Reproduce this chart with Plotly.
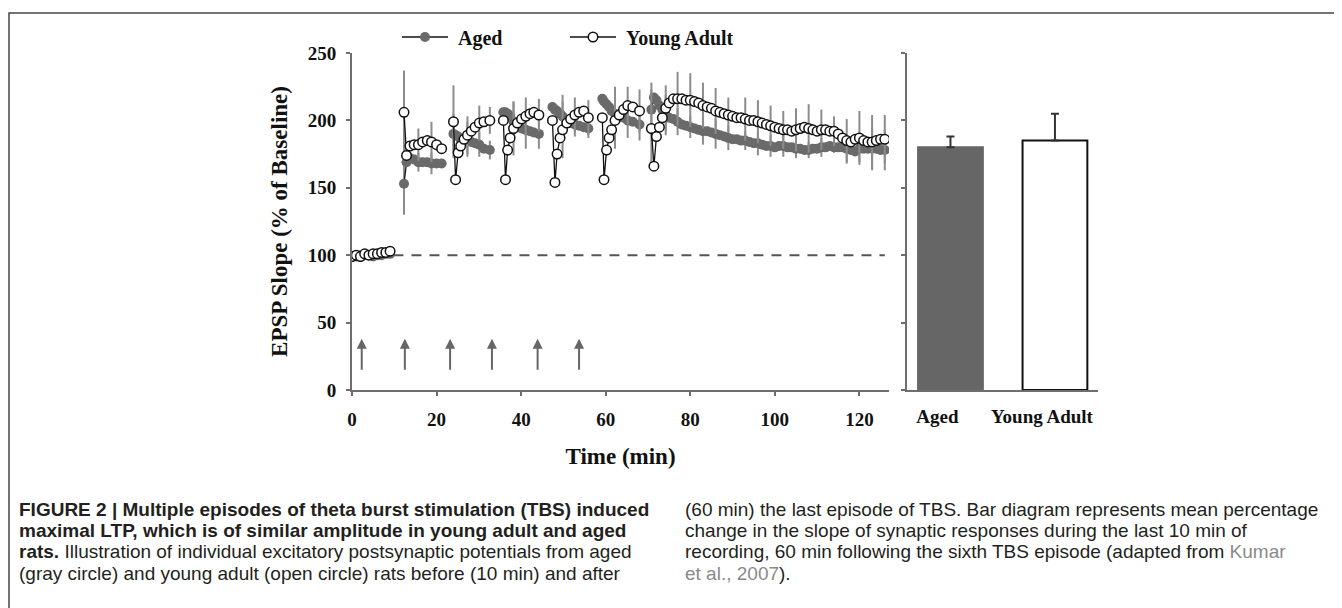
import plotly.graph_objects as go

# ---------------- data ----------------
# time (min); None separates recording segments between TBS episodes
TIME = [0, 1, 2, 3, 4, 5, 6, 7, 8, 9, None,
        12.3, 12.9, 13.7, 14.7, 15.7, 16.7, 17.8, 18.8, 20.0, 21.2, None,
        24.0, 24.5, 25.1, 25.7, 26.5, 27.3, 28.2, 29.1, 30.1, 31.2, 32.6, None,
        35.8, 36.3, 36.8, 37.4, 38.2, 39.1, 40.1, 41.1, 42.1, 43.0, 44.2, None,
        47.4, 48.0, 48.5, 49.2, 49.8, 50.8, 51.7, 52.7, 53.7, 54.8, 55.9, None,
        59.2, 59.6, 60.2, 60.8, 61.4, 62.2, 63.2, 64.2, 65.2, 66.4, 68.0, None,
        70.8, 71.4, 72.0, 72.7, 73.4, 74.2,
        75, 76, 77, 78, 79, 80, 81, 82, 83, 84, 85, 86, 87, 88, 89, 90, 91, 92, 93, 94,
        95, 96, 97, 98, 99, 100, 101, 102, 103, 104, 105, 106, 107, 108, 109, 110,
        111, 112, 113, 114, 115, 116, 117, 118, 119, 120, 121, 122, 123, 124, 125, 126]

YOUNG = [99, 100, 99, 101, 100, 101, 101, 102, 102, 103, None,
         206, 174, 181, 182, 182, 184, 185, 184, 182, 179, None,
         199, 156, 176, 181, 186, 189, 192, 195, 198, 199, 200, None,
         200, 156, 178, 187, 194, 198, 201, 203, 205, 206, 204, None,
         200, 154, 175, 187, 193, 198, 201, 204, 206, 207, 202, None,
         202, 156, 178, 187, 193, 200, 204, 208, 211, 210, 207, None,
         194, 166, 188, 195, 202, 209,
         213, 216, 216, 216, 215, 215, 214, 213, 211, 210, 209, 207, 206, 205, 204, 203, 202, 202, 201, 200,
         200, 199, 198, 197, 196, 195, 194, 193, 193, 192, 193, 194, 195, 194, 193, 192,
         193, 193, 192, 192, 190, 187, 185, 184, 186, 187, 185, 184, 184, 185, 186, 186]

AGED = [99, 99, 100, 100, 100, 99, 100, 100, 101, 101, None,
        153, 169, 172, 171, 169, 169, 169, 168, 168, 168, None,
        190, 189, 188, 186, 185, 186, 184, 183, 182, 179, 178, None,
        206, 206, 205, 203, 199, 196, 194, 193, 192, 191, 190, None,
        210, 208, 207, 205, 203, 200, 198, 197, 196, 195, 194, None,
        216, 214, 212, 210, 207, 205, 203, 202, 200, 199, 197, None,
        208, 217, 215, 211, 208, 204,
        202, 201, 199, 197, 196, 195, 194, 193, 192, 192, 191, 190, 189, 188, 187, 186, 186, 185, 185, 184,
        183, 183, 182, 181, 181, 180, 181, 181, 180, 180, 179, 179, 178, 178, 179, 179,
        180, 180, 181, 180, 180, 180, 179, 178, 177, 179, 179, 179, 179, 179, 178, 178]

# error bars (SEM) shown at these time points
SEM_TIMES = [12.3, 15.7, 18.8, 24.0, 27.3, 30.1, 32.6, 38.2, 41.1, 44.2, 49.8, 52.7, 55.9,
             62.2, 65.2, 68.0, 70.8, 74.2, 77, 80, 83, 86, 89, 93, 96, 99, 102, 105, 108,
             111, 114, 117, 120, 123, 126]
YOUNG_SEM = [31, 12, 15, 27, 14, 13, 10, 20, 14, 12, 21, 13, 13, 21, 14, 16, 29, 17,
             20, 20, 17, 17, 13, 16, 16, 15, 14, 16, 18, 15, 11, 16, 20, 20, 18]
AGED_SEM = [23, 7, 8, 15, 13, 9, 7, 15, 14, 11, 16, 9, 7, 20, 13, 12, 20, 15,
            10, 8, 10, 11, 9, 7, 9, 8, 8, 7, 6, 7, 4, 11, 10, 16, 15]

TBS_TIMES = [2.3, 12.5, 23.2, 33.1, 43.9, 53.7]   # arrows
ARROW_FROM, ARROW_TO = 14, 38
BASELINE_LEVEL = 100
BASELINE_SPAN = (9.8, 126)

BAR_GROUPS = ["Aged", "Young Adult"]
BAR_MEANS = [180, 185]
BAR_SEM = [8, 20]

X_TICKS = [0, 20, 40, 60, 80, 100, 120]
Y_TICKS = [0, 50, 100, 150, 200, 250]

# ---------------- helpers ----------------
W, H = 1342, 608
OFF = 8  # page body margin offset
def fx(p):
    return (p - OFF) / W
def fy(p):
    return 1 - (p - OFF) / H

def align(errs):
    lut = {round(t, 1): e for t, e in zip(SEM_TIMES, errs)}
    return [lut.get(round(t, 1), 0) if t is not None else 0 for t in TIME]

SERIF = "Liberation Serif, Times New Roman, serif"
SANS = "Liberation Sans, Arial, Helvetica, sans-serif"
AXC = "#6e6e6e"
GRAY = "#6a6a6a"

fig = go.Figure()

fig.add_trace(go.Scatter(
    x=TIME, y=AGED, name="&nbsp;Aged", mode="lines+markers",
    line=dict(color="#111111", width=1.3),
    marker=dict(color=GRAY, size=10, line=dict(color=GRAY, width=0)),
    error_y=dict(type="data", array=align(AGED_SEM), color="#8c8c8c", thickness=2, width=0),
    connectgaps=False,
))
fig.add_trace(go.Scatter(
    x=TIME, y=YOUNG, name="&nbsp;Young Adult", mode="lines+markers",
    line=dict(color="#111111", width=1.3),
    marker=dict(color="white", size=9.5, line=dict(color="#111111", width=1.5)),
    error_y=dict(type="data", array=align(YOUNG_SEM), color="#8c8c8c", thickness=2, width=0),
    connectgaps=False,
))

fig.add_trace(go.Bar(
    x=BAR_GROUPS, y=BAR_MEANS, xaxis="x2", yaxis="y2", width=0.62, showlegend=False,
    marker=dict(color=["#666666", "white"], line=dict(color=["#666666", "#111111"], width=2)),
    error_y=dict(type="data", array=BAR_SEM, arrayminus=[0, 0], symmetric=False,
                 color="#333333", thickness=2, width=4),
))

annotations = []
for t in TBS_TIMES:
    annotations.append(dict(x=t, y=ARROW_TO, ax=t, ay=ARROW_FROM, xref="x", yref="y",
                            axref="x", ayref="y", showarrow=True, arrowhead=2, arrowsize=1,
                            arrowwidth=2, arrowcolor="#666666", text=""))

LEFT_LINES = [
    "<b>FIGURE 2 | Multiple episodes of theta burst stimulation (TBS) induced</b>",
    "<b>maximal LTP, which is of similar amplitude in young adult and aged</b>",
    "<b>rats.</b> Illustration of individual excitatory postsynaptic potentials from aged",
    "(gray circle) and young adult (open circle) rats before (10 min) and after",
]
RIGHT_LINES = [
    "(60 min) the last episode of TBS. Bar diagram represents mean percentage",
    "change in the slope of synaptic responses during the last 10 min of",
    "recording, 60 min following the sixth TBS episode (adapted from <span style='color:#8a8a8a'>Kumar</span>",
    "<span style='color:#8a8a8a'>et al., 2007</span>).",
]
LINE_Y = [509, 530.3, 551.6, 573]
for i, txt in enumerate(LEFT_LINES):
    annotations.append(dict(x=fx(17), y=fy(LINE_Y[i]), xref="paper", yref="paper",
                            xanchor="left", yanchor="middle", showarrow=False, text=txt,
                            font=dict(family=SANS, size=19, color="#231f20")))
for i, txt in enumerate(RIGHT_LINES):
    annotations.append(dict(x=fx(683), y=fy(LINE_Y[i]), xref="paper", yref="paper",
                            xanchor="left", yanchor="middle", showarrow=False, text=txt,
                            font=dict(family=SANS, size=19, color="#231f20")))

shapes = [
    dict(type="rect", xref="paper", yref="paper", x0=fx(9), x1=1.05, y0=-0.05, y1=fy(13),
         line=dict(color="#444444", width=1.5), fillcolor="rgba(0,0,0,0)", layer="below"),
    dict(type="line", xref="x", yref="y", x0=BASELINE_SPAN[0], x1=BASELINE_SPAN[1],
         y0=BASELINE_LEVEL, y1=BASELINE_LEVEL, line=dict(color="#555555", width=2, dash="10px,8px"),
         layer="below"),
]

tickfont = dict(family=SERIF, size=19, color="#111111", weight="bold")

fig.update_layout(
    width=W, height=H, margin=dict(l=0, r=0, t=0, b=0, pad=0, autoexpand=False),
    paper_bgcolor="white", plot_bgcolor="white",
    showlegend=True,
    legend=dict(orientation="h", x=fx(397), y=fy(37), xanchor="left", yanchor="middle",
                font=dict(family=SERIF, size=20, color="#111111", weight="bold"),
                itemwidth=46, entrywidth=107, bgcolor="rgba(0,0,0,0)", borderwidth=0),
    xaxis=dict(domain=[fx(352), fx(889)], range=[0, 127], tickvals=X_TICKS, automargin=False,
               showline=True, linecolor=AXC, linewidth=2, ticks="outside", ticklen=4,
               tickcolor=AXC, tickwidth=1.5, showgrid=False, zeroline=False,
               tickfont=tickfont, ticklabelstandoff=7, anchor="y",
               title=dict(text="Time (min)", font=dict(family=SERIF, size=23, color="#111111", weight="bold"),
                          standoff=19)),
    yaxis=dict(domain=[fy(390), fy(53)], range=[0, 250], tickvals=Y_TICKS, automargin=False,
               showline=True, linecolor=AXC, linewidth=2, ticks="outside", ticklen=4,
               tickcolor=AXC, tickwidth=1.5, showgrid=False, zeroline=False,
               tickfont=tickfont, ticklabelstandoff=6, anchor="x",
               title=dict(text="EPSP Slope (% of Baseline)",
                          font=dict(family=SERIF, size=23, color="#111111", weight="bold"),
                          standoff=14)),
    xaxis2=dict(domain=[fx(907), fx(1098)], range=[-0.416, 1.412], type="category", automargin=False,
                showline=True, linecolor=AXC, linewidth=2, ticks="", showgrid=False,
                tickfont=tickfont, ticklabelstandoff=8, ticklabelshift=-13, anchor="y2"),
    yaxis2=dict(domain=[fy(390), fy(53)], range=[0, 250], tickvals=Y_TICKS, automargin=False,
                showline=True, linecolor=AXC, linewidth=2, ticks="outside", ticklen=4,
                tickcolor=AXC, tickwidth=1.5, showgrid=False, zeroline=False,
                showticklabels=False, anchor="x2"),
    annotations=annotations, shapes=shapes,
)

fig.write_html("out.html")
